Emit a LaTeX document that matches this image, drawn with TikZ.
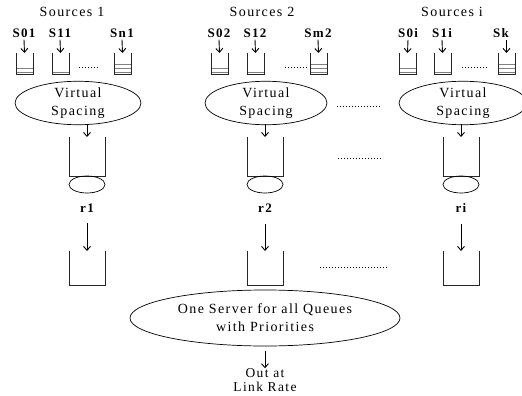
\documentclass[tikz,border=0pt]{standalone}
\usepackage{fontspec}
\setmainfont[LetterSpace=10]{Liberation Serif}
\usetikzlibrary{arrows.meta,shapes.geometric}

% small source queue: name, left x, number of queued packets
\newcommand\srcqueue[3]{%
  \foreach \k in {1,...,#3}
    \draw[pkt] (#2,76-4*\k) -- (#2+17,76-4*\k);
  \draw[wall] (#2,53) -- (#2,75) -- (#2+17,75) -- (#2+17,53);
  \coordinate (#1) at (#2+8.5,53);
}
% larger queue: name, centre x, top y, bottom y
\newcommand\bigqueue[4]{%
  \draw[wall] (#2-18,#3) -- (#2-18,#4) -- (#2+18,#4) -- (#2+18,#3);
  \coordinate (#1) at (#2,#3);
}

\begin{document}
\begin{tikzpicture}[x=1pt,y=-1pt,
  txt/.style={font=\fontsize{14}{18}\selectfont, inner sep=0pt, align=center},
  lbl/.style={font=\bfseries\fontsize{13}{15}\selectfont, inner sep=0pt, align=center},
  flow/.style={-{Straight Barb[length=4pt,width=7pt]}, line width=0.9pt},
  wall/.style={line width=1pt, draw=black!85},
  pkt/.style={draw=gray, line width=0.8pt},
  oval/.style={ellipse, draw, line width=0.7pt, inner sep=0pt},
  dots/.style={dash pattern=on 0.8pt off 2.2pt, line width=0.8pt}]
\clip (0,0) rectangle (522,396);

% ---------- source groups ----------
\node[txt] (src1) at (72,12) {Sources 1};
\node[txt] (src2) at (262,12) {Sources 2};
\node[txt] (srci) at (452,12) {Sources i};

\node[lbl] (l01) at (24,33) {S01};
\node[lbl] (l11) at (60,33) {S11};
\node[lbl] (ln1) at (122,33) {Sn1};
\node[lbl] (l02) at (219,33) {S02};
\node[lbl] (l12) at (255,33) {S12};
\node[lbl] (lm2) at (318,33) {Sm2};
\node[lbl] (l0i) at (408,33) {S0i};
\node[lbl] (l1i) at (442,33) {S1i};
\node[lbl, anchor=west] (lki) at (493,33) {Sk};

\srcqueue{q01}{16}{2}
\srcqueue{q11}{52}{1}
\srcqueue{qn1}{114}{3}
\srcqueue{q02}{211}{2}
\srcqueue{q12}{247}{1}
\srcqueue{qm2}{310}{3}
\srcqueue{q0i}{399}{2}
\srcqueue{q1i}{434}{1}
\srcqueue{qki}{498}{3}
\coordinate (qkitop) at (506.5,53);

\foreach \a/\b in {l01/q01,l11/q11,ln1/qn1,l02/q02,l12/q12,lm2/qm2,l0i/q0i,l1i/q1i}
  \draw[flow] (\a.south) ++(0,2) -- (\b);
\draw[flow] (lki.south west) ++(13.5,2) -- (qkitop);

\coordinate (d1a) at (79,67);  \coordinate (d1b) at (98,67);
\coordinate (d2a) at (285,67); \coordinate (d2b) at (308,67);
\coordinate (d3a) at (462,67); \coordinate (d3b) at (487,67);
\draw[dots] (d1a) -- (d1b);
\draw[dots] (d2a) -- (d2b);
\draw[dots] (d3a) -- (d3b);

% ---------- virtual spacing ----------
\node[oval, txt, minimum width=126, minimum height=42] (vs1) at (78,103) {Virtual\\Spacing};
\node[oval, txt, minimum width=122, minimum height=42] (vs2) at (266,103) {Virtual\\Spacing};
\node[oval, txt, minimum width=128, minimum height=42] (vsi) at (463,103) {Virtual\\Spacing};
\coordinate (dv1) at (337,106); \coordinate (dv2) at (380,106);
\draw[dots] (dv1) -- (dv2);

% ---------- shaping queues and rate servers ----------
\bigqueue{b1}{87}{137}{176}
\bigqueue{b2}{265}{137}{176}
\bigqueue{bi}{461}{137}{176}
\coordinate (va1) at (87,124);
\coordinate (va2) at (265,124);
\coordinate (vai) at (461,124);
\draw[flow] (va1) -- (b1);
\draw[flow] (va2) -- (b2);
\draw[flow] (vai) -- (bi);
\coordinate (dq1) at (338,158); \coordinate (dq2) at (383,158);
\draw[dots] (dq1) -- (dq2);

\node[oval, minimum width=36, minimum height=17] (s1) at (87,184.5) {};
\node[oval, minimum width=36, minimum height=17] (s2) at (265,184.5) {};
\node[oval, minimum width=36, minimum height=17] (si) at (461,184.5) {};

\node[lbl] (r1) at (87,208) {r1};
\node[lbl] (r2) at (265,208) {r2};
\node[lbl] (ri) at (461,208) {ri};

% ---------- priority queues ----------
\bigqueue{p1}{87}{251}{285}
\bigqueue{p2}{265}{251}{285}
\bigqueue{pi}{461}{251}{285}
\draw[flow, shorten <=11pt] (r1.south) -- (p1);
\draw[flow, shorten <=11pt] (r2.south) -- (p2);
\draw[flow, shorten <=11pt] (ri.south) -- (pi);
\coordinate (dp1) at (320,267); \coordinate (dp2) at (387,267);
\draw[dots] (dp1) -- (dp2);

% ---------- common server ----------
\node[oval, txt, minimum width=270, minimum height=56] (server) at (265,318)
  {One Server for all Queues\\with Priorities};
\node[txt, font=\fontsize{13.5}{14}\selectfont] (out) at (265,380) {Out at\\Link Rate};
\draw[flow, shorten <=5pt] (server.south) -- (out.north);
\end{tikzpicture}
\end{document}
